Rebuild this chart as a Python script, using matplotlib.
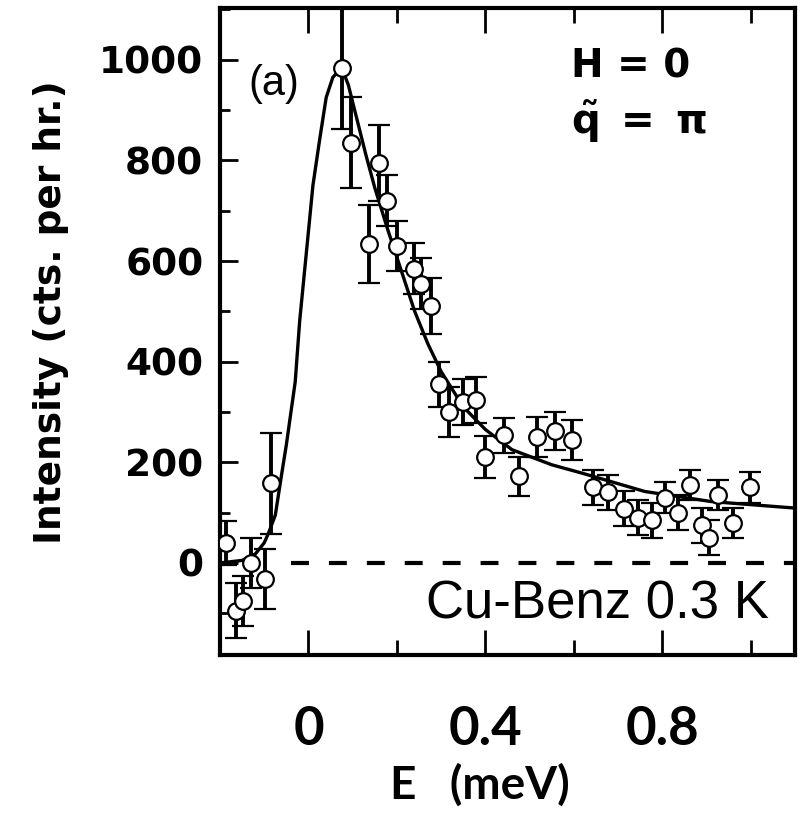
import matplotlib
matplotlib.use("Agg")
import matplotlib.pyplot as plt
from matplotlib.ticker import FixedLocator, MultipleLocator

# Measured points: energy (meV), intensity (cts/hr), error bar
energy = [-0.186, -0.163, -0.148, -0.129, -0.098, -0.084,
          0.075, 0.095, 0.136, 0.159, 0.177, 0.200, 0.238, 0.254,
          0.277, 0.295, 0.317, 0.350, 0.379, 0.400, 0.442, 0.476,
          0.517, 0.556, 0.596,
          0.642, 0.676, 0.714, 0.745, 0.776, 0.805, 0.834, 0.862,
          0.890, 0.905, 0.925, 0.960, 0.998]
intensity = [40, -95, -75, 0, -32, 158,
             984, 835, 634, 795, 720, 630, 585, 555,
             510, 355, 300, 320, 324, 210, 254, 172,
             250, 262, 245,
             150, 140, 108, 90, 85, 130, 100, 155,
             75, 50, 135, 80, 150]
error = [44, 55, 50, 50, 60, 100,
         122, 90, 78, 75, 50, 50, 50, 50,
         56, 45, 50, 45, 45, 42, 35, 38,
         40, 38, 40,
         35, 35, 35, 35, 35, 30, 35, 30,
         35, 35, 30, 30, 30]

# Fitted line shape
fit_e = [-0.20, -0.15, -0.12, -0.10, -0.09, -0.075, -0.06, -0.05, -0.03,
         -0.02, -0.01, 0.0, 0.01, 0.025, 0.04, 0.055, 0.075, 0.09, 0.11,
         0.13, 0.15, 0.18, 0.21, 0.24, 0.27, 0.30, 0.35, 0.40, 0.46, 0.55,
         0.62, 0.76, 0.91, 1.07, 1.10]
fit_i = [0, 5, 18, 40, 60, 95, 180, 235, 360,
         480, 570, 660, 750, 840, 925, 965, 984, 950, 880,
         810, 745, 660, 580, 500, 435, 380, 310, 265, 225, 195,
         178, 142, 122, 111, 109]

x_major = [0, 0.4, 0.8]
x_major_labels = ["0", "0.4", "0.8"]
x_minor = [0.2, 0.6, 1.0]
y_ticks = [0, 200, 400, 600, 800, 1000]

plt.rcParams.update({"font.family": "DejaVu Sans", "mathtext.fontset": "dejavusans"})

fig = plt.figure(figsize=(8, 8.15), dpi=100)
ax = fig.add_axes([0.275, 0.1963, 0.719, 0.794])

ax.plot(fit_e, fit_i, color="black", lw=2.4, zorder=2)
ax.hlines(0, -0.04, 1.1, colors="black", lw=3, linestyles=(0, (4.3, 4.8)), zorder=1)
ax.errorbar(energy, intensity, yerr=error, fmt="o", ms=12, mfc="white", mec="black",
            mew=1.6, ecolor="black", elinewidth=2.8, capsize=8, capthick=3.5, zorder=3)

ax.set_xlim(-0.2, 1.1)
ax.set_ylim(-183, 1103)

for s in ax.spines.values():
    s.set_linewidth(3)

ax.xaxis.set_major_locator(FixedLocator(x_major))
ax.xaxis.set_minor_locator(FixedLocator(x_minor))
ax.set_xticklabels(x_major_labels, family="Lato", weight="bold", fontsize=38)
ax.yaxis.set_major_locator(FixedLocator(y_ticks))
ax.yaxis.set_minor_locator(MultipleLocator(100))
ax.set_yticklabels([str(v) for v in y_ticks], weight="bold", fontsize=27)

ax.tick_params(axis="x", which="both", direction="in", top=True, bottom=True, width=2)
ax.tick_params(axis="x", which="major", length=18, pad=36)
ax.tick_params(axis="x", which="minor", length=11)
ax.tick_params(axis="y", which="both", direction="in", left=True, right=False, width=2)
ax.tick_params(axis="y", which="major", length=13, pad=12)
ax.tick_params(axis="y", which="minor", length=7)

ax.set_xlabel("E   (meV)", family="Lato", weight="bold", fontsize=33, labelpad=7)
ax.xaxis.label.set_x(0.452)
ax.set_ylabel("Intensity (cts. per hr.)", weight="bold", fontsize=27, labelpad=22)
ax.yaxis.label.set_y(0.53)

ax.text(0.05, 0.882, "(a)", transform=ax.transAxes, family="Liberation Sans",
        fontsize=30, va="center", ha="left")
ax.text(0.61, 0.91, "H = 0", transform=ax.transAxes, weight="bold",
        fontsize=28, va="center", ha="left")
ax.text(0.61, 0.825, r"$\mathbf{\tilde{q}\ =\ \pi}$", transform=ax.transAxes,
        fontsize=29, va="center", ha="left")
ax.text(0.955, 0.04, "Cu-Benz 0.3 K", transform=ax.transAxes,
        family="Liberation Sans", fontsize=38, va="bottom", ha="right")

fig.savefig("out.png", dpi=100)
